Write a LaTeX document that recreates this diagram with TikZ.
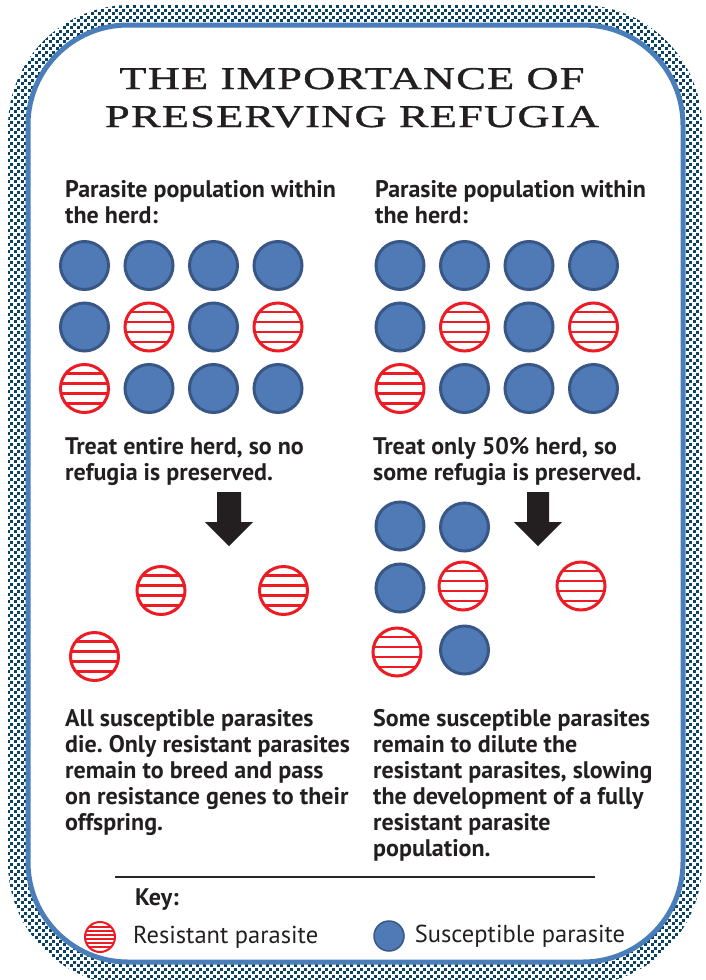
\documentclass[tikz,border=0pt]{standalone}
\usepackage{fontspec}
\setsansfont{PT Sans}
\newfontfamily\titlefont[FakeStretch=1.4,LetterSpace=4,FakeBold=1.2]{Liberation Serif}
\usepackage{tikz}
\usetikzlibrary{positioning}
\usetikzlibrary{patterns.meta}

\definecolor{susfill}{RGB}{79,122,181}
\definecolor{susedge}{RGB}{56,87,135}
\definecolor{resred}{RGB}{237,28,36}
\definecolor{rimblue}{RGB}{74,126,187}
\definecolor{dotblue}{RGB}{10,66,98}
\definecolor{inkdark}{RGB}{35,31,32}

\newcommand{\bodyfont}{\frenchspacing\sffamily\bfseries\fontsize{24}{26}\selectfont}
\newcommand{\keyfont}{\sffamily\fontsize{24.5}{26}\selectfont}

\tikzdeclarepattern{
  name=chequer,
  type=uncolored,
  bounding box={(0pt,0pt) and (7pt,7pt)},
  tile size={(7pt,7pt)},
  code={
    \fill (0pt,0pt) rectangle (3.3pt,3.3pt);
    \fill (3.5pt,3.5pt) rectangle (6.8pt,6.8pt);
  }
}

\begin{document}
\begin{tikzpicture}[x=1pt, y=-1pt,
    sus/.style={circle, draw=susedge, fill=susfill, line width=3pt,
        minimum size=48pt, inner sep=0pt},
    res/.style={circle, draw=resred, fill=white, line width=3pt,
        minimum size=48pt, inner sep=0pt,
        path picture={\foreach \dy in {-15,-5,5,15}
            \draw[resred, line width=2.2pt]
                ([yshift=\dy pt]path picture bounding box.west) --
                ([yshift=\dy pt]path picture bounding box.east);}},
    suskey/.style={sus, line width=1.5pt, minimum size=30pt},
    reskey/.style={circle, draw=resred, fill=white, line width=2pt,
        minimum size=30pt, inner sep=0pt,
        path picture={\foreach \dy in {-10,-6,-2,2,6,10}
            \draw[resred, line width=1.2pt]
                ([yshift=\dy pt]path picture bounding box.west) --
                ([yshift=\dy pt]path picture bounding box.east);}},
    txt/.style={anchor=base west, inner sep=0pt, align=left,
        font=\bodyfont, text=inkdark},
    keytxt/.style={inner sep=0pt, font=\keyfont, text=inkdark},
    title/.style={inner sep=0pt, font=\titlefont\fontsize{31.7}{38}\selectfont,
        text=inkdark}]
    \useasboundingbox (0,0) rectangle (705,980);

    % frame
    \fill[pattern=chequer, pattern color=dotblue, rounded corners=122pt]
        (8,5) rectangle (702,985);
    \filldraw[fill=white, draw=rimblue, line width=5pt, rounded corners=100pt]
        (28,25) rectangle (683,962);

    % title
    \node[title, anchor=base] (ttl1) at (352,89) {THE IMPORTANCE OF};
    \node[title, anchor=base] (ttl2) at (352,127) {PRESERVING REFUGIA};

    % headers (placed at the baseline of their last line)
    \node[txt] (hdrL) at (65,223) {Parasite population within\\the herd:};
    \node[txt] (hdrR) at (375,223) {Parasite population within\\the herd:};

    % the two herds
    \def\herd{sus,sus,sus,sus,sus,res,sus,res,res,sus,sus,sus}
    \foreach \side/\dx in {L/0, R/315.5}
    {
        \foreach \t[count=\i from 0] in \herd
        {
            \pgfmathtruncatemacro{\col}{mod(\i,4)}
            \pgfmathtruncatemacro{\row}{div(\i,4)}
            \node[\t] (\side\i) at (84.5+\dx+64.5*\col, 265.5+61.5*\row) {};
        }
    }

    % treatment
    \node[txt] (treatL) at (65,480) {Treat entire herd, so no\\refugia is preserved.};
    \node[txt] (treatR) at (373,480) {Treat only 50\% herd, so\\some refugia is preserved.};

    \fill[inkdark] (217,492) -- (241,492) -- (241,522) -- (253,522) -- (229,546)
        -- (205,522) -- (217,522) -- cycle;
    \fill[inkdark] (527,492) -- (549,492) -- (549,522) -- (562,522) -- (538,546)
        -- (514,522) -- (527,522) -- cycle;

    % what is left after treatment
    \node[res] (leftA) at (161,590.5) {};
    \node[res] (leftB) at (283.5,590.5) {};
    \node[res] (leftC) at (94.5,656.5) {};

    \node[sus] (keptA) at (400,526) {};
    \node[sus] (keptB) at (464.5,527) {};
    \node[sus] (keptC) at (400,588) {};
    \node[res] (keptD) at (463,586) {};
    \node[res] (keptE) at (581,586) {};
    \node[res] (keptF) at (397,652) {};
    \node[sus] (keptG) at (464.5,650) {};

    % outcomes
    \node[txt] (outL) at (65,830) {All susceptible parasites\\die. Only resistant parasites\\remain to breed and pass\\on resistance genes to their\\offspring.};
    \node[txt] (outR) at (373,856) {Some susceptible parasites\\remain to dilute the\\resistant parasites, slowing\\the development of a fully\\resistant parasite\\population.};

    % key
    \draw[black!85, line width=1.2pt] (115,877) -- (595,877);
    \node[txt] (keyhd) at (135,905) {Key:};
    \node[reskey] (reskeyc) at (100,937) {};
    \node[keytxt, right=17pt of reskeyc] (reslbl) {Resistant parasite};
    \node[suskey] (suskeyc) at (389,936) {};
    \node[keytxt, right=10pt of suskeyc] (suslbl) {Susceptible parasite};
\end{tikzpicture}
\end{document}
